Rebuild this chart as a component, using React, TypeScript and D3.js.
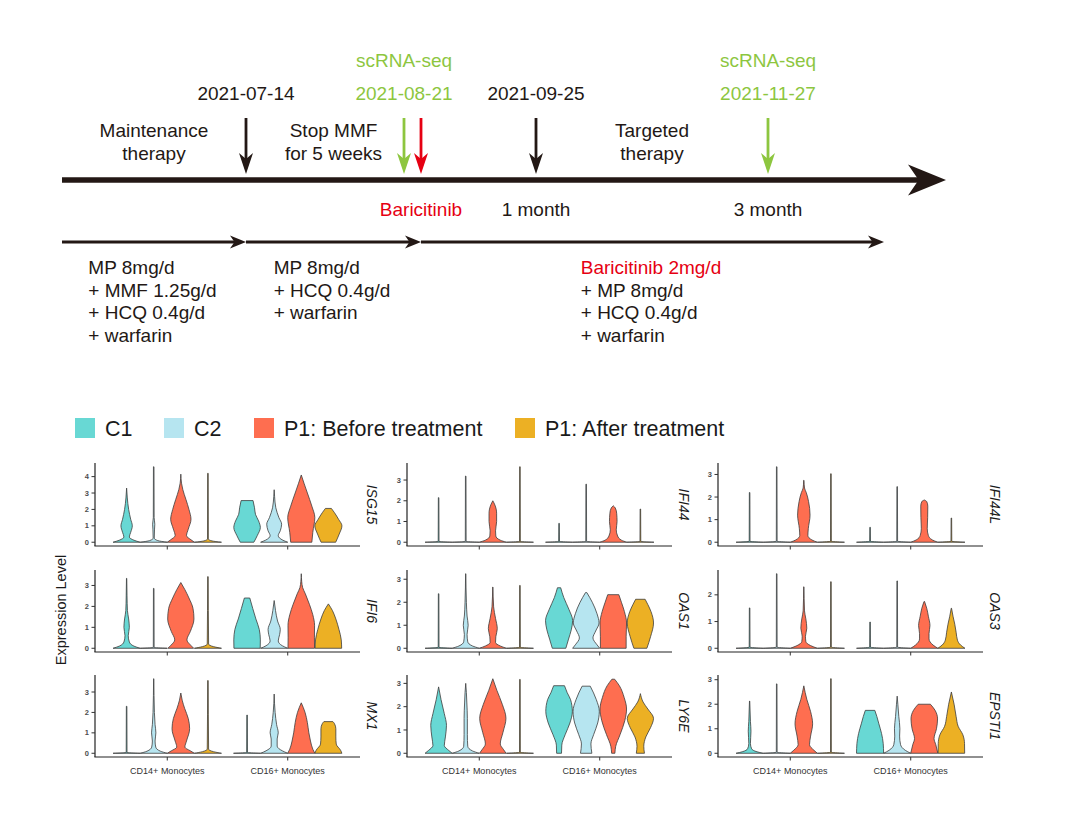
import * as d3 from "d3";

type Profile = [number, number][];

const FONT = "'Liberation Sans', Arial, Helvetica, sans-serif";
const INK = "#231815";
const GREEN = "#8dc63f";
const RED = "#e60012";

// ---------- timeline data ----------
const eventDates = ["2021-07-14", "2021-08-21", "2021-09-25", "2021-11-27"];
const eventColors = [INK, GREEN, INK, GREEN];
const seqDates = ["2021-08-21", "2021-11-27"];
const baricitinibDate = "2021-08-21";
const belowLabels = [
  { date: "2021-08-21", text: "Baricitinib", color: RED, dodge: true },
  { date: "2021-09-25", text: "1 month", color: INK, dodge: false },
  { date: "2021-11-27", text: "3 month", color: INK, dodge: false },
];
const phaseMaint = ["Maintenance", "therapy"];
const phaseStop = ["Stop MMF", "for 5 weeks"];
const phaseTarget = ["Targeted", "therapy"];
const regimenA = ["MP 8mg/d", "+ MMF 1.25g/d", "+ HCQ 0.4g/d", "+ warfarin"];
const regimenB = ["MP 8mg/d", "+ HCQ 0.4g/d", "+ warfarin"];
const regimenC = ["Baricitinib 2mg/d", "+ MP 8mg/d", "+ HCQ 0.4g/d", "+ warfarin"];

// ---------- violin data ----------
const cellTypes = ["CD14+ Monocytes", "CD16+ Monocytes"];
const groups = ["C1", "C2", "P1: Before treatment", "P1: After treatment"];
const groupColors = ["#68d8d4", "#b6e5f0", "#fe6e50", "#ecb024"];
const genes = ["ISG15", "IFI44", "IFI44L", "IFI6", "OAS1", "OAS3", "MX1", "LY6E", "EPSTI1"];

// each violin: [expression value, relative half-width]
const ISG15: Profile[][] = [
  [
    [[0, 1], [0.12, 0.55], [0.32, 0.2], [0.6, 0.3], [1.0, 0.42], [1.4, 0.3], [2.0, 0.15], [2.7, 0.05], [3.3, 0]],
    [[0, 1], [0.1, 0.3], [0.25, 0.04], [0.8, 0.06], [1.1, 0.08], [1.5, 0.03], [4.6, 0.02]],
    [[0, 1], [0.15, 0.75], [0.4, 0.42], [0.8, 0.55], [1.4, 0.75], [2.0, 0.6], [2.6, 0.38], [3.2, 0.15], [3.6, 0.05], [4.15, 0]],
    [[0, 1], [0.08, 0.3], [0.2, 0.03], [4.2, 0.02]],
  ],
  [
    [[0, 0.5], [0.4, 0.75], [0.9, 0.98], [1.3, 0.85], [1.7, 0.62], [2.1, 0.55], [2.54, 0.44]],
    [[0, 1], [0.12, 0.65], [0.4, 0.3], [0.7, 0.45], [1.1, 0.55], [1.5, 0.35], [2.1, 0.12], [2.8, 0.03], [3.2, 0]],
    [[0, 0.78], [0.6, 0.85], [1.5, 1.0], [2.2, 0.78], [3.0, 0.45], [3.6, 0.2], [4.1, 0]],
    [[0, 0.54], [0.5, 0.8], [1.0, 1.0], [1.4, 0.75], [1.8, 0.45], [2.06, 0.22]],
  ],
];
const IFI44: Profile[][] = [
  [
    [[0, 1], [0.04, 0.03], [2.15, 0.02]],
    [[0, 1], [0.04, 0.03], [3.19, 0.02]],
    [[0, 1], [0.1, 0.55], [0.3, 0.22], [0.55, 0.2], [1.0, 0.28], [1.4, 0.28], [1.8, 0.15], [2.0, 0]],
    [[0, 1], [0.04, 0.03], [3.64, 0.02]],
  ],
  [
    [[0, 1], [0.04, 0.03], [0.91, 0.02]],
    [[0, 1], [0.04, 0.03], [2.8, 0.02]],
    [[0, 1], [0.1, 0.6], [0.3, 0.32], [0.6, 0.22], [1.0, 0.28], [1.4, 0.25], [1.65, 0.15], [1.76, 0]],
    [[0, 1], [0.04, 0.03], [1.6, 0.02]],
  ],
];
const IFI44L: Profile[][] = [
  [
    [[0, 1], [0.04, 0.03], [2.2, 0.02]],
    [[0, 1], [0.04, 0.03], [3.34, 0.02]],
    [[0, 1], [0.1, 0.6], [0.3, 0.3], [0.6, 0.33], [1.2, 0.46], [1.8, 0.35], [2.2, 0.18], [2.4, 0.05], [2.74, 0.01]],
    [[0, 1], [0.04, 0.03], [3.03, 0.02]],
  ],
  [
    [[0, 1], [0.04, 0.03], [0.66, 0.02]],
    [[0, 1], [0.04, 0.03], [2.46, 0.02]],
    [[0, 1], [0.1, 0.6], [0.3, 0.3], [0.6, 0.22], [1.1, 0.25], [1.6, 0.26], [1.8, 0.18], [1.87, 0]],
    [[0, 1], [0.04, 0.03], [1.07, 0.02]],
  ],
];
const IFI6: Profile[][] = [
  [
    [[0, 1], [0.1, 0.55], [0.3, 0.2], [0.6, 0.12], [1.0, 0.2], [1.4, 0.15], [1.8, 0.06], [2.5, 0.03], [3.34, 0.01]],
    [[0, 1], [0.04, 0.03], [2.86, 0.02]],
    [[0, 0.95], [0.15, 0.72], [0.4, 0.45], [0.8, 0.7], [1.4, 0.97], [1.9, 0.9], [2.4, 0.6], [2.8, 0.3], [3.14, 0]],
    [[0, 1], [0.08, 0.4], [0.2, 0.05], [3.42, 0.02]],
  ],
  [
    [[0, 0.97], [0.4, 0.98], [0.9, 0.9], [1.4, 0.65], [1.9, 0.42], [2.4, 0.2]],
    [[0, 1], [0.12, 0.6], [0.35, 0.3], [0.65, 0.4], [0.9, 0.45], [1.3, 0.25], [1.8, 0.1], [2.28, 0]],
    [[0, 0.98], [0.5, 0.97], [1.1, 0.98], [1.6, 0.85], [2.1, 0.6], [2.6, 0.3], [2.9, 0.1], [3.2, 0.03], [3.56, 0]],
    [[0, 0.98], [0.4, 0.95], [0.9, 0.78], [1.4, 0.55], [1.8, 0.3], [2.12, 0]],
  ],
];
const OAS1: Profile[][] = [
  [
    [[0, 1], [0.04, 0.03], [2.37, 0.02]],
    [[0, 1], [0.1, 0.5], [0.28, 0.15], [0.6, 0.1], [1.0, 0.18], [1.4, 0.1], [2.0, 0.05], [3.24, 0.01]],
    [[0, 1], [0.1, 0.55], [0.25, 0.2], [0.5, 0.22], [0.85, 0.33], [1.3, 0.2], [1.8, 0.06], [2.66, 0.01]],
    [[0, 1], [0.04, 0.03], [2.73, 0.02]],
  ],
  [
    [[0, 0.5], [0.4, 0.7], [0.8, 0.9], [1.2, 1.0], [1.7, 0.72], [2.2, 0.35], [2.63, 0.12]],
    [[0, 1], [0.15, 0.8], [0.45, 0.5], [0.75, 0.7], [1.1, 0.95], [1.5, 0.8], [2.0, 0.45], [2.42, 0.05]],
    [[0, 0.95], [0.5, 0.95], [1.1, 0.98], [1.6, 0.82], [2.0, 0.6], [2.33, 0.41]],
    [[0, 0.48], [0.5, 0.75], [1.1, 0.97], [1.6, 0.78], [1.9, 0.55], [2.13, 0.35]],
  ],
];
const OAS3: Profile[][] = [
  [
    [[0, 1], [0.04, 0.03], [1.51, 0.02]],
    [[0, 1], [0.04, 0.03], [2.79, 0.02]],
    [[0, 1], [0.1, 0.5], [0.25, 0.15], [0.45, 0.12], [0.75, 0.22], [1.1, 0.15], [1.4, 0.05], [2.3, 0.01]],
    [[0, 1], [0.04, 0.03], [2.49, 0.02]],
  ],
  [
    [[0, 1], [0.04, 0.03], [0.98, 0.02]],
    [[0, 1], [0.04, 0.03], [2.52, 0.02]],
    [[0, 1], [0.12, 0.65], [0.35, 0.35], [0.55, 0.35], [0.85, 0.42], [1.2, 0.3], [1.5, 0.18], [1.75, 0.02]],
    [[0, 1], [0.12, 0.68], [0.3, 0.45], [0.6, 0.35], [0.9, 0.25], [1.2, 0.12], [1.5, 0.01]],
  ],
];
const MX1: Profile[][] = [
  [
    [[0, 1], [0.04, 0.03], [2.3, 0.02]],
    [[0, 1], [0.1, 0.5], [0.3, 0.15], [0.6, 0.1], [1.0, 0.16], [1.4, 0.1], [2.0, 0.05], [3.65, 0.01]],
    [[0, 1], [0.12, 0.7], [0.3, 0.3], [0.6, 0.42], [1.2, 0.65], [1.7, 0.55], [2.2, 0.28], [2.6, 0.1], [2.95, 0]],
    [[0, 1], [0.08, 0.4], [0.2, 0.05], [3.56, 0.02]],
  ],
  [
    [[0, 1], [0.04, 0.03], [1.87, 0.02]],
    [[0, 1], [0.12, 0.6], [0.35, 0.22], [0.7, 0.22], [1.0, 0.3], [1.4, 0.18], [2.0, 0.07], [2.9, 0]],
    [[0, 1], [0.2, 0.85], [0.6, 0.68], [1.0, 0.56], [1.5, 0.45], [2.0, 0.28], [2.47, 0]],
    [[0, 1], [0.15, 0.9], [0.45, 0.58], [0.8, 0.55], [1.2, 0.55], [1.45, 0.45], [1.55, 0.33]],
  ],
];
const LY6E: Profile[][] = [
  [
    [[0, 1], [0.12, 0.75], [0.33, 0.42], [0.7, 0.5], [1.2, 0.58], [1.7, 0.42], [2.3, 0.18], [2.85, 0]],
    [[0, 1], [0.1, 0.5], [0.3, 0.15], [0.8, 0.12], [1.5, 0.12], [2.2, 0.08], [2.6, 0.05], [3.0, 0]],
    [[0, 0.98], [0.15, 0.8], [0.4, 0.55], [0.9, 0.75], [1.5, 0.97], [2.1, 0.7], [2.7, 0.3], [3.2, 0]],
    [[0, 1], [0.04, 0.03], [3.17, 0.02]],
  ],
  [
    [[0, 0.18], [0.35, 0.2], [0.8, 0.45], [1.3, 0.8], [1.8, 0.98], [2.3, 0.85], [2.6, 0.6], [2.9, 0.4]],
    [[0, 0.42], [0.4, 0.35], [0.8, 0.55], [1.3, 0.85], [1.8, 0.97], [2.3, 0.75], [2.88, 0.3]],
    [[0, 0.12], [0.3, 0.18], [0.8, 0.5], [1.4, 0.85], [1.9, 0.98], [2.4, 0.8], [2.9, 0.45], [3.18, 0.1]],
    [[0, 0.3], [0.3, 0.25], [0.7, 0.4], [1.1, 0.75], [1.5, 0.97], [1.9, 0.55], [2.2, 0.2], [2.56, 0]],
  ],
];
const EPSTI1: Profile[][] = [
  [
    [[0, 1], [0.06, 0.55], [0.18, 0.15], [0.4, 0.06], [0.9, 0.1], [1.3, 0.06], [2.13, 0.01]],
    [[0, 1], [0.04, 0.03], [2.83, 0.02]],
    [[0, 1], [0.12, 0.75], [0.35, 0.42], [0.7, 0.5], [1.2, 0.65], [1.7, 0.5], [2.2, 0.22], [2.75, 0]],
    [[0, 1], [0.04, 0.03], [3.04, 0.02]],
  ],
  [
    [[0, 1], [0.4, 0.97], [0.8, 0.85], [1.2, 0.65], [1.5, 0.5], [1.75, 0.35]],
    [[0, 1], [0.12, 0.6], [0.35, 0.25], [0.7, 0.18], [1.0, 0.2], [1.5, 0.12], [2.0, 0.05], [2.33, 0]],
    [[0, 1], [0.35, 0.85], [0.6, 0.72], [1.0, 0.9], [1.4, 0.98], [1.75, 0.8], [2.0, 0.45]],
    [[0, 0.98], [0.4, 0.97], [0.75, 0.85], [1.1, 0.5], [1.5, 0.35], [2.0, 0.2], [2.5, 0]],
  ],
];
const geneProfiles = [ISG15, IFI44, IFI44L, IFI6, OAS1, OAS3, MX1, LY6E, EPSTI1];

// ---------- layout ----------
const TL_X0 = 62;
const TL_X1 = 946;
const EVENT_X = [246, 404, 536, 768];
const RED_DODGE = 17;
const REG_END = 884;
const SEQ_Y = 67;
const DATE_Y = 100;
const PHASE_Y = 137;
const LINE_H = 22.5;
const ARROW_TOP = 118;
const ARROW_TIP = 174;
const TL_Y = 180;
const BELOW_Y = 216;
const REG_Y = 242;
const REG_TEXT_Y = 274;
const TL_FS = 19;

const LEGEND_Y = 418;
const LEGEND_X = [75, 164, 254, 515];
const LEGEND_FS = 21.5;

const PANEL_W = 265;
const COL_X = [95, 407, 718];
const ROW_TOP = [463, 570, 675];
const ROW_BOTTOM = [546, 652, 757];

const parseDate = d3.timeParse("%Y-%m-%d");

let measureCtx: CanvasRenderingContext2D | null = null;
function textWidth(s: string, size: number) {
  if (!measureCtx) measureCtx = document.createElement("canvas").getContext("2d");
  if (!measureCtx) return s.length * size * 0.5;
  measureCtx.font = `${size}px 'Liberation Sans', Arial, sans-serif`;
  return measureCtx.measureText(s).width;
}

function DownArrow({ x, color }: { x: number; color: string }) {
  return (
    <g>
      <line x1={x} x2={x} y1={ARROW_TOP} y2={ARROW_TIP - 14} stroke={color} strokeWidth={2.8} />
      <path
        d={`M${x - 7},${ARROW_TIP - 21} L${x},${ARROW_TIP} L${x + 7},${ARROW_TIP - 21} L${x},${ARROW_TIP - 15} Z`}
        fill={color}
      />
    </g>
  );
}

function RightArrow({ x1, x2, y, width, headL, headH }: { x1: number; x2: number; y: number; width: number; headL: number; headH: number }) {
  return (
    <g>
      <line x1={x1} x2={x2 - headL * 0.6} y1={y} y2={y} stroke={INK} strokeWidth={width} />
      <path
        d={`M${x2},${y} L${x2 - headL},${y - headH} L${x2 - headL * 0.72},${y} L${x2 - headL},${y + headH} Z`}
        fill={INK}
      />
    </g>
  );
}

function TextBlock({ lines, x, y, anchor, colors }: { lines: string[]; x: number; y: number; anchor: string; colors?: string[] }) {
  return (
    <text x={x} y={y} textAnchor={anchor} fontSize={TL_FS} fill={INK}>
      {lines.map((l, i) => (
        <tspan key={i} x={x} y={y + i * LINE_H} fill={colors ? colors[i] : INK}>
          {l}
        </tspan>
      ))}
    </text>
  );
}

function Timeline() {
  const tx = d3.scaleTime().domain(eventDates.map((d) => parseDate(d)!)).range(EVENT_X);
  const xd = (d: string) => tx(parseDate(d)!);
  const redX = xd(baricitinibDate) + RED_DODGE;

  const segs: { from: number; to: number; lines: string[]; colors?: string[] }[] = [
    { from: TL_X0, to: xd("2021-07-14"), lines: regimenA },
    { from: xd("2021-07-14"), to: redX, lines: regimenB },
    { from: redX, to: REG_END, lines: regimenC, colors: [RED, INK, INK, INK] },
  ];

  return (
    <g>
      {/* main axis */}
      <RightArrow x1={TL_X0} x2={TL_X1} y={TL_Y} width={5.5} headL={38} headH={15.5} />

      {seqDates.map((d) => (
        <text key={"s" + d} x={xd(d)} y={SEQ_Y} textAnchor="middle" fontSize={TL_FS} fill={GREEN}>
          scRNA-seq
        </text>
      ))}
      {eventDates.map((d, i) => (
        <text key={"d" + d} x={xd(d)} y={DATE_Y} textAnchor="middle" fontSize={TL_FS} fill={eventColors[i]}>
          {d}
        </text>
      ))}
      {eventDates.map((d, i) => (
        <DownArrow key={"a" + d} x={xd(d)} color={eventColors[i]} />
      ))}
      <DownArrow x={redX} color={RED} />

      <TextBlock lines={phaseMaint} x={(TL_X0 + xd("2021-07-14")) / 2} y={PHASE_Y} anchor="middle" />
      <TextBlock lines={phaseStop} x={(xd("2021-07-14") + redX) / 2} y={PHASE_Y} anchor="middle" />
      <TextBlock lines={phaseTarget} x={(xd("2021-09-25") + xd("2021-11-27")) / 2} y={PHASE_Y} anchor="middle" />

      {belowLabels.map((b) => (
        <text
          key={b.text}
          x={xd(b.date) + (b.dodge ? RED_DODGE : 0)}
          y={BELOW_Y}
          textAnchor="middle"
          fontSize={TL_FS}
          fill={b.color}
        >
          {b.text}
        </text>
      ))}

      {segs.map((s, i) => {
        const wMax = d3.max(s.lines, (l) => textWidth(l, TL_FS))!;
        const left = (s.from + s.to) / 2 - wMax / 2;
        return (
          <g key={"seg" + i}>
            <RightArrow x1={s.from} x2={s.to} y={REG_Y} width={3} headL={16} headH={6.5} />
            <TextBlock lines={s.lines} x={left - 1.5} y={REG_TEXT_Y} anchor="start" colors={s.colors} />
          </g>
        );
      })}
    </g>
  );
}

function ViolinPanel({ gene, data, col, row }: { gene: string; data: Profile[][]; col: number; row: number }) {
  const x0 = COL_X[col];
  const top = ROW_TOP[row];
  const bottom = ROW_BOTTOM[row];
  const maxV = d3.max(data.flat(), (p) => p[p.length - 1][0])!;
  const y = d3.scaleLinear().domain([-0.05 * maxV, 1.05 * maxV]).range([bottom, top]);
  const xCell = d3.scalePoint<string>().domain(cellTypes).range([x0, x0 + PANEL_W]).padding(0.6);
  const step = xCell.step();
  const xGroup = d3.scaleBand<string>().domain(groups).range([-0.45 * step, 0.45 * step]);
  const hw = xGroup.bandwidth() / 2;
  const ticks = d3.range(0, Math.floor(maxV) + 1);

  return (
    <g>
      {data.map((cellData, ci) =>
        cellData.map((prof, gi) => {
          const cx = xCell(cellTypes[ci])! + xGroup(groups[gi])! + hw;
          const area = d3
            .area<[number, number]>()
            .y((d) => y(d[0]))
            .x0((d) => cx - d[1] * hw)
            .x1((d) => cx + d[1] * hw)
            .curve(d3.curveMonotoneY);
          return (
            <path
              key={ci + "-" + gi}
              d={area(prof) ?? ""}
              fill={groupColors[gi]}
              stroke="#3c3c3c"
              strokeWidth={0.8}
              strokeLinejoin="round"
            />
          );
        })
      )}
      {/* y axis */}
      <line x1={x0} x2={x0} y1={top} y2={bottom} stroke="#222" strokeWidth={1.2} />
      {ticks.map((t) => (
        <g key={"t" + t}>
          <line x1={x0 - 3.5} x2={x0} y1={y(t)} y2={y(t)} stroke="#333" strokeWidth={1} />
          <text x={x0 - 6} y={y(t)} dy="0.35em" textAnchor="end" fontSize={7.5} fontWeight="bold" fill="#4d4d4d">
            {t}
          </text>
        </g>
      ))}
      {/* x axis */}
      <line x1={x0 - 0.6} x2={x0 + PANEL_W} y1={bottom} y2={bottom} stroke="#222" strokeWidth={1.2} />
      {cellTypes.map((c) => (
        <g key={c}>
          <line x1={xCell(c)!} x2={xCell(c)!} y1={bottom} y2={bottom + 3.5} stroke="#333" strokeWidth={1} />
          {row === 2 && (
            <text x={xCell(c)!} y={bottom + 17} textAnchor="middle" fontSize={9} fill="#333">
              {c}
            </text>
          )}
        </g>
      ))}
      {/* gene label */}
      <text
        transform={`translate(${x0 + PANEL_W + 12},${(top + bottom) / 2}) rotate(90)`}
        textAnchor="middle"
        dominantBaseline="central"
        fontSize={14}
        fontStyle="italic"
        fill="#1a1a1a"
      >
        {gene}
      </text>
    </g>
  );
}

function Legend() {
  return (
    <g>
      {groups.map((g, i) => (
        <g key={g}>
          <rect x={LEGEND_X[i]} y={LEGEND_Y} width={20} height={20} fill={groupColors[i]} />
          <text x={LEGEND_X[i] + 30} y={LEGEND_Y + 18} fontSize={LEGEND_FS} fill="#1a1a1a">
            {g}
          </text>
        </g>
      ))}
    </g>
  );
}

export default function App() {
  return (
    <div style={{ position: "absolute", left: 0, top: 0 }}>
      <svg width={1080} height={815} style={{ display: "block", background: "#fff" }} fontFamily={FONT}>
        <Timeline />
        <Legend />
        {genes.map((g, i) => (
          <ViolinPanel key={g} gene={g} data={geneProfiles[i]} col={i % 3} row={Math.floor(i / 3)} />
        ))}
        <text
          transform={`translate(66,${(ROW_TOP[0] + ROW_BOTTOM[2]) / 2}) rotate(-90)`}
          textAnchor="middle"
          fontSize={14.5}
          fill="#1a1a1a"
        >
          Expression Level
        </text>
      </svg>
    </div>
  );
}
